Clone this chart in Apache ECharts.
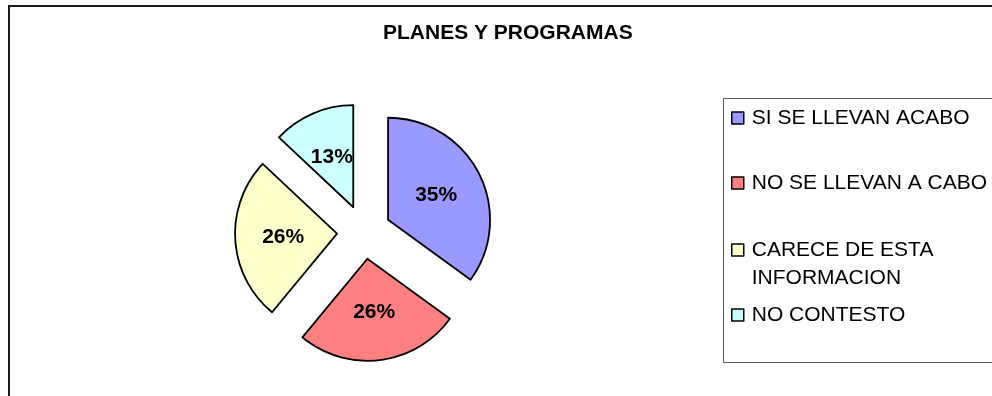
<!DOCTYPE html>
<html>
<head>
<meta charset="utf-8">
<script src="https://cdn.jsdelivr.net/npm/echarts@6/dist/echarts.min.js"></script>
<style>
html,body{margin:0;padding:0;background:#fff;}
#chart{width:992px;height:396px;}
</style>
</head>
<body>
<div id="chart"></div>
<script>
const titleText = 'PLANES Y PROGRAMAS';
const categories = ['SI SE LLEVAN ACABO', 'NO SE LLEVAN A CABO', 'CARECE DE ESTA INFORMACION', 'NO CONTESTO'];
const percentValues = [35, 26, 26, 13];
const sliceColors = ['#9999FF', '#FF8080', '#FFFFCC', '#CCFFFF'];

const font = 'Liberation Sans, Arial, sans-serif';
const chart = echarts.init(document.getElementById('chart'));

const legendTops = [106, 171, 208, 303];
const legendLineHeights = [24, 24, 28, 24];
const legends = categories.map((name, i) => ({
  data: [name],
  left: 731,
  top: legendTops[i],
  orient: 'vertical',
  padding: 0,
  icon: 'rect',
  itemWidth: 12,
  itemHeight: 12,
  itemStyle: { borderColor: '#000', borderWidth: 1.5 },
  selectedMode: false,
  formatter: (n) => n === 'CARECE DE ESTA INFORMACION' ? '\nCARECE DE ESTA\nINFORMACION' : n,
  textStyle: {
    fontFamily: font, fontSize: 21, color: '#000',
    lineHeight: legendLineHeights[i], padding: [0, 0, 0, 3]
  }
}));

chart.setOption({
  animation: false,
  backgroundColor: '#fff',
  title: {
    text: titleText,
    left: 383,
    top: 23,
    padding: 0,
    textStyle: { fontFamily: font, fontSize: 21, fontWeight: 'bold', color: '#000' }
  },
  legend: legends,
  graphic: [
    { type: 'rect', shape: { x: 9, y: 6, width: 1100, height: 600 }, style: { fill: 'none', stroke: '#1a1a1a', lineWidth: 2 }, silent: true },
    { type: 'rect', shape: { x: 723.5, y: 98.5, width: 400, height: 264 }, style: { fill: 'none', stroke: '#555', lineWidth: 1 }, silent: true }
  ],
  series: [{
    type: 'pie',
    center: [364, 232],
    radius: [0, 102],
    startAngle: 90,
    clockwise: true,
    selectedMode: 'multiple',
    selectedOffset: 27,
    avoidLabelOverlap: false,
    emphasis: { disabled: true },
    itemStyle: { borderColor: '#000', borderWidth: 1.8 },
    label: {
      show: true,
      position: 'inside',
      formatter: '{c}%',
      fontFamily: font,
      fontSize: 21,
      fontWeight: 'bold',
      color: '#000'
    },
    labelLine: { show: false },
    data: categories.map((name, i) => ({
      name: name,
      value: percentValues[i],
      selected: true,
      itemStyle: { color: sliceColors[i] }
    }))
  }]
});
</script>
</body>
</html>
